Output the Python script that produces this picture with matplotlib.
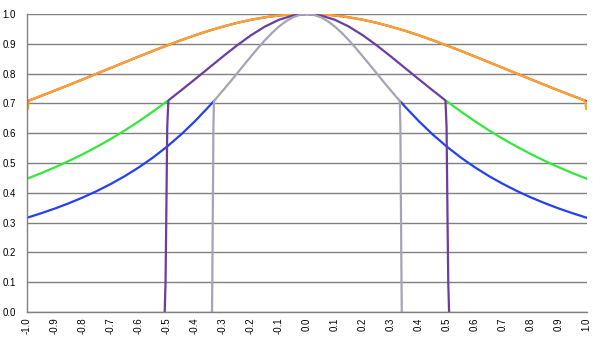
import matplotlib
matplotlib.use("Agg")
import matplotlib.pyplot as plt
import numpy as np

# ---- data (positive half, mirrored for the symmetric curves) ----
orange_x = [0.0, 0.05, 0.10, 0.15, 0.20, 0.25, 0.30, 0.35, 0.40, 0.45, 0.50,
            0.55, 0.60, 0.65, 0.70, 0.75, 0.80, 0.85, 0.90, 0.95, 0.99, 0.995, 0.998]
orange_y = [1.000, 0.9988, 0.9950, 0.9889, 0.9806, 0.9701, 0.9578, 0.9439, 0.9285, 0.9119, 0.8944,
            0.8762, 0.8575, 0.8384, 0.8192, 0.8000, 0.7809, 0.7619, 0.7433, 0.7250, 0.7107, 0.700, 0.678]

red_x = [0.0, 0.05, 0.10, 0.15, 0.20, 0.25, 0.30, 0.35, 0.40, 0.45, 0.50,
         0.55, 0.60, 0.65, 0.70, 0.75, 0.80, 0.85, 0.90, 0.95, 1.00]
red_y = [1.000, 0.9988, 0.9950, 0.9889, 0.9806, 0.9701, 0.9578, 0.9439, 0.9285, 0.9119, 0.8944,
         0.8762, 0.8575, 0.8384, 0.8192, 0.8000, 0.7809, 0.7619, 0.7433, 0.7250, 0.7071]

green_x = [0.50, 0.55, 0.60, 0.65, 0.70, 0.75, 0.80, 0.85, 0.90, 0.95, 1.00]
green_y = [0.7071, 0.6727, 0.6402, 0.6097, 0.5812, 0.5547, 0.5300, 0.5070, 0.4856, 0.4657, 0.4472]

blue_x = [0.3333, 0.35, 0.40, 0.45, 0.50, 0.55, 0.60, 0.65, 0.70, 0.75, 0.80, 0.85, 0.90, 0.95, 1.00]
blue_y = [0.7071, 0.6897, 0.6402, 0.5952, 0.5547, 0.5183, 0.4856, 0.4563, 0.4299, 0.4061,
          0.3846, 0.3651, 0.3473, 0.3311, 0.3162]

purple_x = [0.0, 0.05, 0.10, 0.15, 0.20, 0.25, 0.30, 0.35, 0.40, 0.45, 0.495,
            0.499, 0.502, 0.505, 0.508]
purple_y = [1.000, 0.9950, 0.9806, 0.9578, 0.9285, 0.8944, 0.8575, 0.8192, 0.7809, 0.7433, 0.7100,
            0.62, 0.35, 0.10, 0.0]

gray_x = [0.0, 0.025, 0.05, 0.075, 0.10, 0.125, 0.15, 0.175, 0.20, 0.225, 0.25, 0.275, 0.30, 0.332,
          0.334, 0.336, 0.338, 0.339]
gray_y = [1.000, 0.9972, 0.9889, 0.9756, 0.9578, 0.9363, 0.9119, 0.8854, 0.8575, 0.8289, 0.8000,
          0.7714, 0.7433, 0.7080, 0.62, 0.35, 0.10, 0.0]

x_ticks = [-1.0, -0.9, -0.8, -0.7, -0.6, -0.5, -0.4, -0.3, -0.2, -0.1,
           0.0, 0.1, 0.2, 0.3, 0.4, 0.5, 0.6, 0.7, 0.8, 0.9, 1.0]
y_ticks = [0.0, 0.1, 0.2, 0.3, 0.4, 0.5, 0.6, 0.7, 0.8, 0.9, 1.0]


def mirror(xs, ys):
    xs = np.asarray(xs, float)
    ys = np.asarray(ys, float)
    fx = np.concatenate([-xs[::-1], xs[1:]]) if xs[0] == 0 else None
    fy = np.concatenate([ys[::-1], ys[1:]]) if xs[0] == 0 else None
    return fx, fy


plt.rcParams['font.family'] = ['Liberation Sans', 'DejaVu Sans']
fig = plt.figure(figsize=(6.0, 3.4), dpi=100)
ax = fig.add_axes([0.045, 0.0824, 0.933, 0.8764])

lw = 1.6
# red underneath orange
rx, ry = mirror(red_x, red_y)
ax.plot(rx, ry, color='#e8281e', lw=lw, solid_capstyle='butt')
ox, oy = mirror(orange_x, orange_y)
ax.plot(ox, oy, color='#f7a532', lw=lw, solid_capstyle='butt')

# green and blue only outside
gx = np.asarray(green_x); gy = np.asarray(green_y)
ax.plot(gx, gy, color='#33e83a', lw=lw)
ax.plot(-gx, gy, color='#33e83a', lw=lw)
bx = np.asarray(blue_x); by = np.asarray(blue_y)
ax.plot(bx, by, color='#2440f2', lw=lw)
ax.plot(-bx, by, color='#2440f2', lw=lw)

px, py = mirror(purple_x, purple_y)
ax.plot(px, py, color='#6a3ea0', lw=lw)
grx, gry = mirror(gray_x, gray_y)
ax.plot(grx, gry, color='#a3a5b5', lw=lw)

ax.set_xlim(-1.0, 1.0)
ax.set_ylim(0.0, 1.0)
ax.set_xticks(x_ticks)
ax.set_xticklabels([f"{v:.1f}" for v in x_ticks], rotation=90, fontsize=7)
ax.set_yticks(y_ticks)
ax.set_yticklabels([f"{v:.1f}" for v in y_ticks], fontsize=7)
ax.tick_params(axis='both', length=0)
ax.tick_params(axis='y', pad=8)
ax.tick_params(axis='x', pad=4)

ax.yaxis.grid(True, color='#808080', lw=1.0)
ax.xaxis.grid(False)
ax.set_axisbelow(True)
for s in ['top', 'right']:
    ax.spines[s].set_visible(False)
for s in ['left', 'bottom']:
    ax.spines[s].set_color('#808080')
    ax.spines[s].set_linewidth(1.0)

fig.savefig('out.png', dpi=100)
